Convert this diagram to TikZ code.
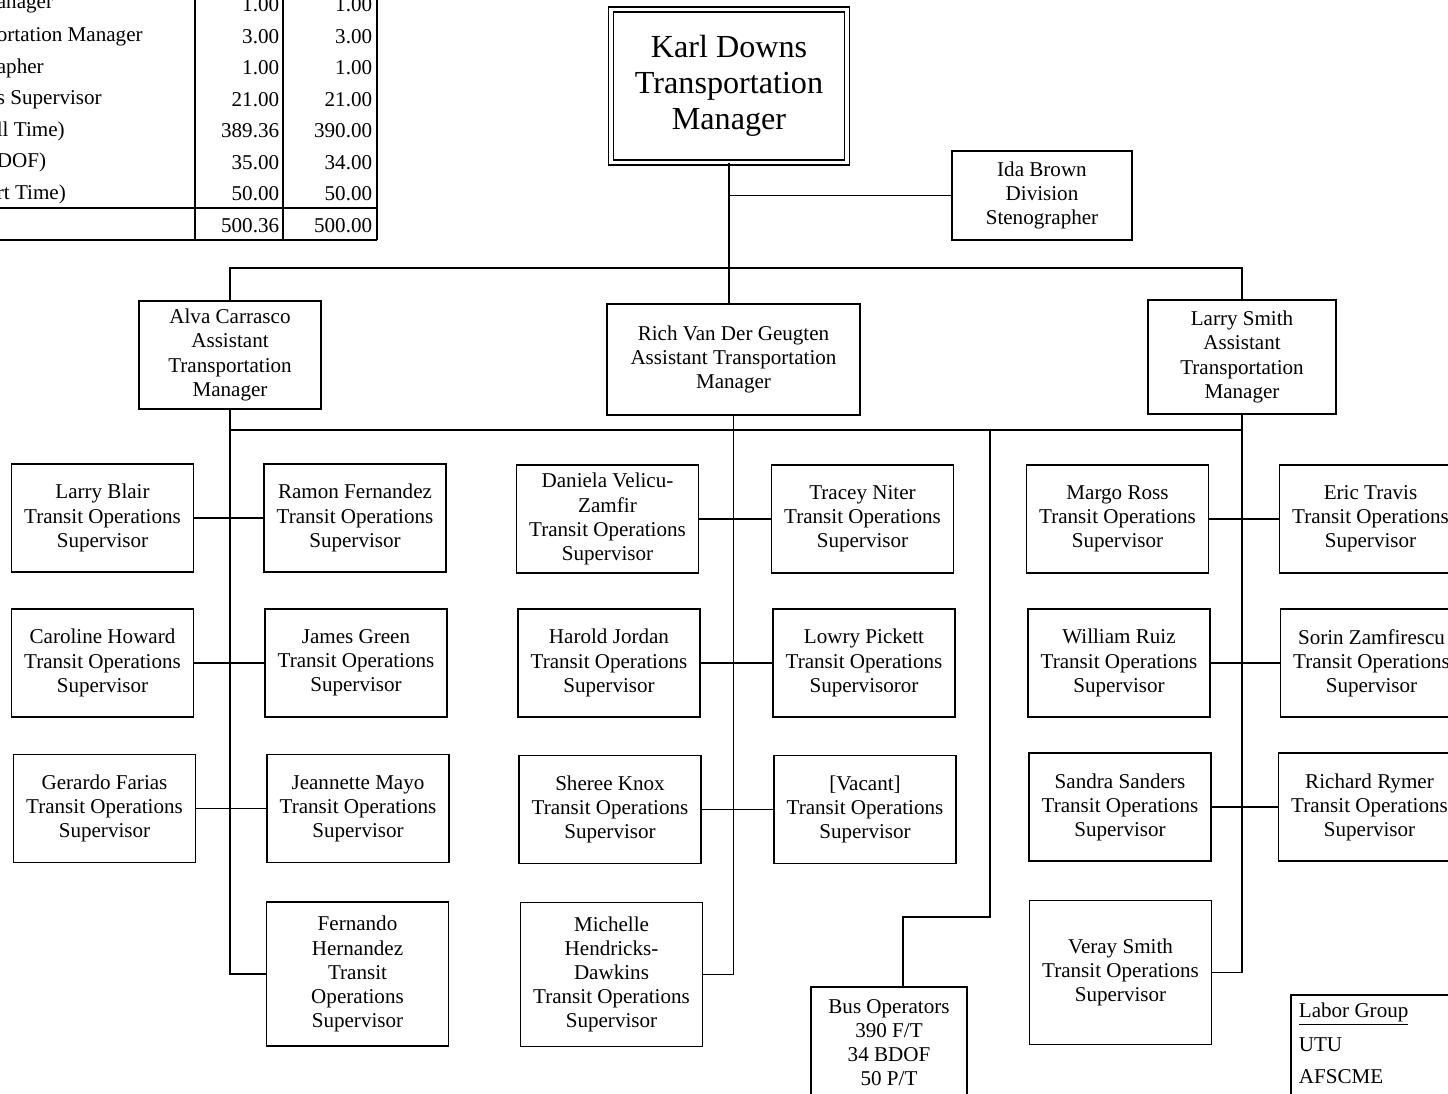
\documentclass[tikz,border=0pt]{standalone}
\usepackage{fontspec}
\setmainfont{Liberation Serif}
\usepackage{tikz}
\usetikzlibrary{positioning}

\begin{document}
\begin{tikzpicture}[x=0.02cm,y=-0.02cm,line width=1pt,
    txt/.style={font={\fontsize{12}{13.7}\selectfont}},
    post/.style={txt,draw,line width=1.1pt,align=center,inner sep=2pt,
      minimum width=3.64cm,minimum height=2.16cm},
    tall/.style={post,minimum height=2.88cm},
    cell/.style={txt,inner sep=0pt}]
  \useasboundingbox (0,0) rectangle (1448,1094);
  % staffing table (cut off at the page edge)
  \draw (195,-10) -- (195,240);
  \draw (283,-10) -- (283,240);
  \draw (377,-10) -- (377,240);
  \draw (-10,208) -- (377,208);
  \draw (-10,240) -- (377,240);
  \foreach \lbl/\xa/\xb [count=\i from 0] in {anager/1.00/1.00,
      ortation Manager/3.00/3.00, apher/1.00/1.00, s Supervisor/21.00/21.00,
      ll Time)/389.36/390.00, DOF)/35.00/34.00, rt Time)/50.00/50.00} {
    \node[cell,anchor=west] (lbl\i) at (-4,{5+31.5*\i}) {\lbl};
    \node[cell,anchor=east] (old\i) at (280,{5+31.5*\i}) {\xa};
    \node[cell,anchor=east] (new\i) at (373,{5+31.5*\i}) {\xb};
  }
  \node[cell,anchor=east] (oldsum) at (280,226) {500.36};
  \node[cell,anchor=east] (newsum) at (373,226) {500.00};

  % managers
  \node[draw,double,double distance=2pt,line width=0.9pt,align=center,
    font={\fontsize{18.3}{20.5}\selectfont},minimum width=4.72cm,
    minimum height=3.06cm] (mgr) at (729,86)
    {Karl Downs\\Transportation\\Manager};
  \node[post,minimum width=3.6cm,minimum height=1.78cm] (ida) at (1042,195.5)
    {Ida Brown\\Division\\Stenographer};
  \node[post,minimum height=2.16cm] (alva) at (230,355)
    {Alva Carrasco\\Assistant\\Transportation\\Manager};
  \node[post,minimum width=5.06cm,minimum height=2.22cm] (rich) at (733.5,359.5)
    {Rich Van Der Geugten\\Assistant Transportation\\Manager};
  \node[post,minimum width=3.76cm,minimum height=2.28cm] (larrys) at (1242,357)
    {Larry Smith\\Assistant\\Transportation\\Manager};

  % supervisors, left
  \node[post] (blair) at (102.5,518) {Larry Blair\\Transit Operations\\Supervisor};
  \node[post] (ramon) at (355,518) {Ramon Fernandez\\Transit Operations\\Supervisor};
  \node[post] (caroline) at (102.5,663) {Caroline Howard\\Transit Operations\\Supervisor};
  \node[post] (james) at (356,663) {James Green\\Transit Operations\\Supervisor};
  \node[post] (gerardo) at (104.5,808.5) {Gerardo Farias\\Transit Operations\\Supervisor};
  \node[post] (jeannette) at (358,808.5) {Jeannette Mayo\\Transit Operations\\Supervisor};
  \node[tall] (fernando) at (357.5,974) {Fernando\\Hernandez\\Transit\\Operations\\Supervisor};
  % supervisors, middle
  \node[post] (daniela) at (607.5,519) {Daniela Velicu-\\Zamfir\\Transit Operations\\Supervisor};
  \node[post] (tracey) at (862.5,519) {Tracey Niter\\Transit Operations\\Supervisor};
  \node[post] (harold) at (609,663) {Harold Jordan\\Transit Operations\\Supervisor};
  \node[post] (lowry) at (864,663) {Lowry Pickett\\Transit Operations\\Supervisoror};
  \node[post] (sheree) at (610,809.5) {Sheree Knox\\Transit Operations\\Supervisor};
  \node[post] (vacant) at (865,809.5) {[Vacant]\\Transit Operations\\Supervisor};
  \node[tall] (michelle) at (611.5,974.5) {Michelle\\Hendricks-\\Dawkins\\Transit Operations\\Supervisor};
  % supervisors, right
  \node[post] (margo) at (1117.5,519) {Margo Ross\\Transit Operations\\Supervisor};
  \node[post] (eric) at (1370.5,519) {Eric Travis\\Transit Operations\\Supervisor};
  \node[post] (william) at (1119,663) {William Ruiz\\Transit Operations\\Supervisor};
  \node[post] (sorin) at (1371.5,663) {Sorin Zamfirescu\\Transit Operations\\Supervisor};
  \node[post] (sandra) at (1120,807) {Sandra Sanders\\Transit Operations\\Supervisor};
  \node[post] (richard) at (1369.5,807) {Richard Rymer\\Transit Operations\\Supervisor};
  \node[tall] (veray) at (1120.5,972.5) {Veray Smith\\Transit Operations\\Supervisor};
  % operators
  \node[post,minimum width=3.12cm,minimum height=2.24cm] (bus) at (889,1043)
    {Bus Operators\\390 F/T\\34 BDOF\\50 P/T};

  % connectors
  \coordinate (bar1) at (731,268);
  \coordinate (bar2) at (990,430);
  \coordinate (busbend) at (990,917);
  \draw (mgr.south) -- (mgr.south |- rich.north);
  \draw (mgr.south |- ida.west) -- (ida.west);
  \draw (alva.north) |- (bar1) -| (larrys.north);
  \draw (alva.south |- bar2) -- (larrys.south |- bar2);
  \draw (alva.south) |- (fernando.west);
  \draw (rich.south) |- (michelle.east);
  \draw (larrys.south) |- (veray.east);
  \draw (bar2) -- (busbend) -| ([xshift=0.28cm]bus.north);
  \foreach \a/\b in {blair/ramon, caroline/james, gerardo/jeannette,
      daniela/tracey, harold/lowry, sheree/vacant,
      margo/eric, william/sorin, sandra/richard}
    \draw (\a.east) -- (\b.west);

  % labor group key
  \draw (1291,1100) |- (1460,995);
  \node[cell,anchor=west] (labor) at (1298,1014) {\underline{Labor Group}};
  \node[cell,anchor=west] (utu) at (1298,1045) {UTU};
  \node[cell,anchor=west] (afscme) at (1298,1077) {AFSCME};
\end{tikzpicture}
\end{document}
